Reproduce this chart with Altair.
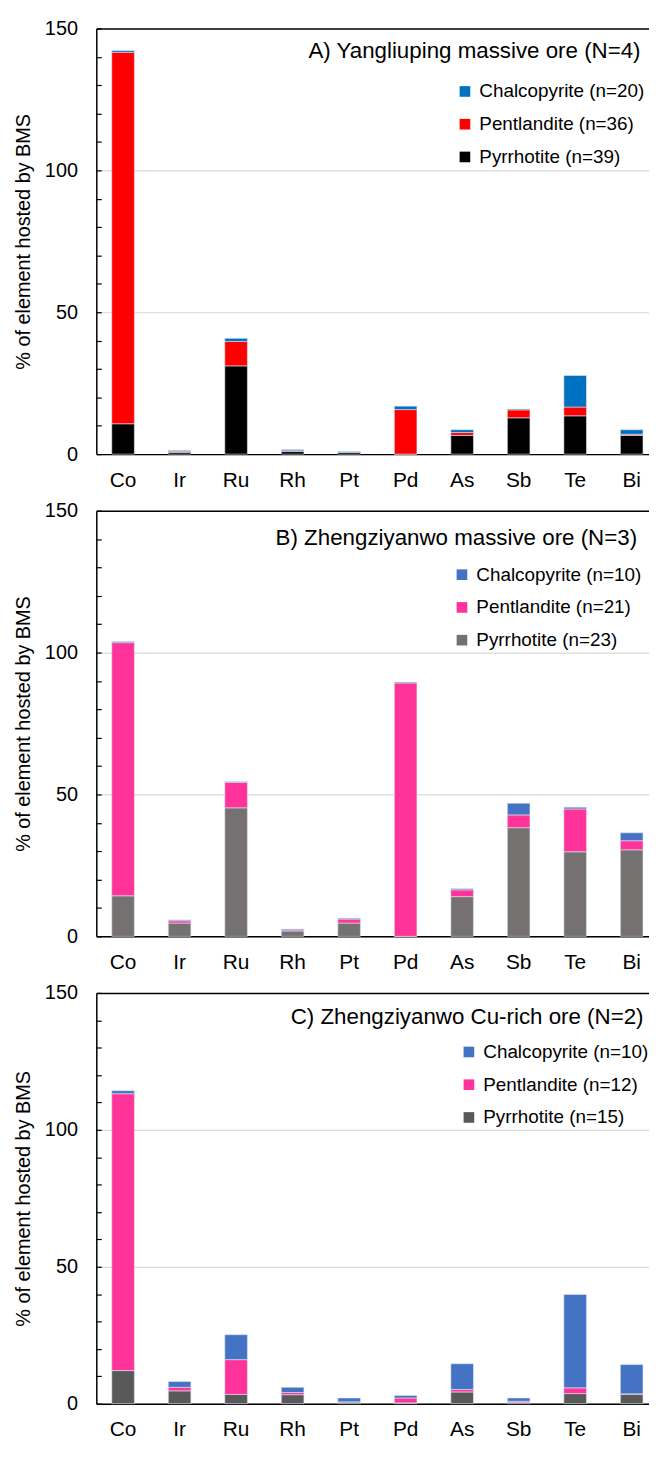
import altair as alt
import pandas as pd

elements = ["Co", "Ir", "Ru", "Rh", "Pt", "Pd", "As", "Sb", "Te", "Bi"]

# Panel A: Yangliuping massive ore
a_po = [10.7, 0.6, 31.1, 0.9, 0.7, 0.0, 6.6, 12.8, 13.5, 6.6]
a_pn = [130.9, 0.4, 8.6, 0.3, 0.0, 15.7, 1.0, 2.8, 3.1, 0.4]
a_ccp = [0.6, 0.3, 1.1, 0.4, 0.2, 1.2, 1.0, 0.3, 11.1, 1.6]

# Panel B: Zhengziyanwo massive ore
b_po = [14.3, 4.7, 45.3, 1.9, 4.7, 0.0, 14.0, 38.3, 29.8, 30.5]
b_pn = [89.2, 0.8, 9.0, 0.4, 1.4, 89.3, 2.4, 4.5, 15.1, 3.2]
b_ccp = [0.4, 0.3, 0.2, 0.3, 0.3, 0.3, 0.4, 4.1, 0.6, 2.8]

# Panel C: Zhengziyanwo Cu-rich ore
c_po = [12.1, 4.7, 3.4, 3.3, 0.6, 0.3, 4.3, 0.5, 3.7, 3.5]
c_pn = [101.1, 1.3, 12.7, 0.8, 0.1, 1.8, 0.9, 0.4, 2.1, 0.1]
c_ccp = [1.1, 2.1, 9.1, 1.9, 1.4, 0.9, 9.4, 1.2, 34.1, 10.7]

titles = [
    "A) Yangliuping massive ore (N=4)",
    "B) Zhengziyanwo massive ore (N=3)",
    "C) Zhengziyanwo Cu-rich ore (N=2)",
]
legend_labels = [
    ["Chalcopyrite (n=20)", "Pentlandite (n=36)", "Pyrrhotite (n=39)"],
    ["Chalcopyrite (n=10)", "Pentlandite (n=21)", "Pyrrhotite (n=23)"],
    ["Chalcopyrite (n=10)", "Pentlandite (n=12)", "Pyrrhotite (n=15)"],
]
colors = [
    ["#0070C0", "#FF0000", "#000000"],
    ["#4472C4", "#FF3399", "#767171"],
    ["#4472C4", "#FF3399", "#595959"],
]

FONT = "Liberation Sans"
W = 557


def make_panel(title, po, pn, ccp, labels, cols, height, tx, ty, lx, ly):
    rows = []
    for i, el in enumerate(elements):
        rows.append({"element": el, "mineral": labels[2], "rank": 0, "value": po[i]})
        rows.append({"element": el, "mineral": labels[1], "rank": 1, "value": pn[i]})
        rows.append({"element": el, "mineral": labels[0], "rank": 2, "value": ccp[i]})
    df = pd.DataFrame(rows)

    x_enc = alt.X(
        "element:N",
        sort=elements,
        scale=alt.Scale(paddingInner=0.6, paddingOuter=0.19, align=0.72),
        axis=alt.Axis(
            title=None, labelAngle=0, ticks=False, labelPadding=15.5,
            labelFontSize=21, labelColor="black", domainColor="black",
            domainWidth=1.5,
        ),
    )
    yscale = alt.Scale(domain=[0, 150], nice=False)

    bars = alt.Chart(df).mark_bar(stroke="#dfe6f0", strokeWidth=0.6).encode(
        x=x_enc,
        y=alt.Y(
            "value:Q", stack="zero", scale=yscale,
            axis=alt.Axis(
                values=[0, 50, 100], title="% of element hosted by BMS",
                ticks=False, grid=True, gridColor="#d9d9d9", gridWidth=1.2,
                labelPadding=19, labelFontSize=20, labelColor="black",
                titleFontSize=20, titleFontWeight="normal", titleColor="black",
                titlePadding=11, domainColor="black", domainWidth=1.5,
            ),
        ),
        color=alt.Color(
            "mineral:N",
            scale=alt.Scale(domain=labels, range=cols),
            legend=alt.Legend(
                title=None, orient="none", legendX=lx, legendY=ly,
                symbolType="square", symbolSize=115, symbolStrokeWidth=0,
                labelFontSize=19, labelColor="black", rowPadding=13,
                labelOffset=5, labelLimit=300,
            ),
        ),
        order=alt.Order("rank:Q", sort="ascending"),
    )

    minor_ticks = alt.Chart(df).mark_bar(opacity=0).encode(
        x=x_enc,
        y=alt.Y(
            "value:Q", stack="zero", scale=yscale,
            axis=alt.Axis(
                orient="left", values=list(range(0, 151, 10)), offset=-5,
                tickSize=5, tickColor="black", tickWidth=1.2, labels=False,
                domain=False, grid=False, title=None,
            ),
        ),
    )

    top_line = alt.Chart(df).mark_bar(opacity=0).encode(
        x=x_enc,
        y=alt.Y(
            "value:Q", stack="zero", scale=yscale,
            axis=alt.Axis(
                orient="left", values=[150], ticks=False, labelPadding=19,
                labelFontSize=20, labelColor="black", domain=False, grid=True,
                gridColor="black", gridWidth=1.5, title=None,
            ),
        ),
    )

    label = alt.Chart(pd.DataFrame({"t": [title]})).mark_text(
        align="right", baseline="middle", fontSize=22.5, font=FONT, color="black"
    ).encode(x=alt.value(tx), y=alt.value(ty), text="t:N")

    return (
        alt.layer(bars, minor_ticks, top_line, label)
        .resolve_axis(y="independent")
        .properties(width=W, height=height)
    )


pa = make_panel(titles[0], a_po, a_pn, a_ccp, legend_labels[0], colors[0], 429,
                548.5, 23, 362, 54)
pb = make_panel(titles[1], b_po, b_pn, b_ccp, legend_labels[1], colors[1], 429,
                545, 28, 359, 55)
pc = make_panel(titles[2], c_po, c_pn, c_ccp, legend_labels[2], colors[2], 414,
                551.5, 24, 366, 50)

chart = (
    alt.vconcat(pa, pb, pc, spacing=10)
    .resolve_scale(color="independent")
    .properties(padding={"left": 5, "top": 5, "right": 0, "bottom": 0})
    .configure(font=FONT)
    .configure_view(stroke=None)
)

chart.save("out.html", embed_options={"renderer": "svg", "actions": False})
